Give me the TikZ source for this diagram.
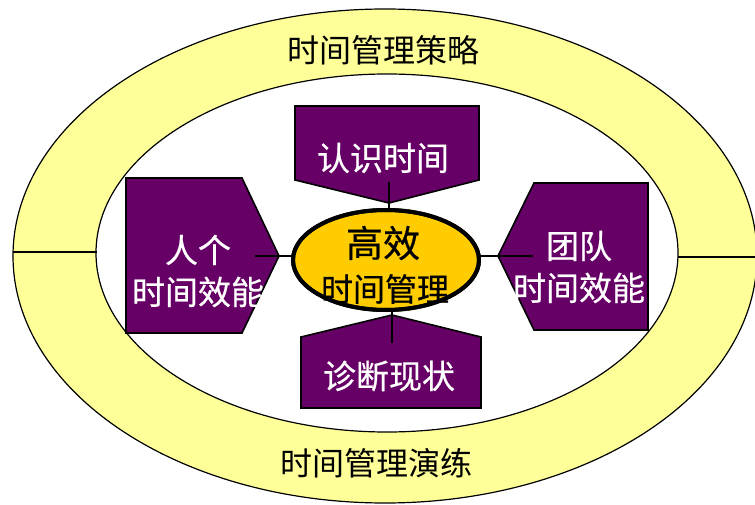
\documentclass[tikz,border=0pt]{standalone}
\usepackage{fontspec}
\newfontfamily\cjk{Noto Sans CJK SC}
\newfontfamily\cjkm[FakeBold=0.6]{Noto Sans CJK SC}
\usetikzlibrary{shapes.geometric}
\definecolor{ring}{HTML}{FFFF99}
\definecolor{plum}{HTML}{660066}
\definecolor{gold}{HTML}{FFCC00}
\tikzset{
  ringtext/.style={font=\cjk\fontsize{32}{36}\selectfont, text=black, inner sep=0},
  boxtext/.style={font=\cjkm\fontsize{33}{42}\selectfont, text=white, inner sep=0, align=center},
  plumbox/.style={fill=plum, draw=black, line width=1.6, line join=miter},
  link/.style={draw=black, line width=2},
  oval/.style={ellipse, draw=black, inner sep=0, outer sep=0}
}
\begin{document}
\begin{tikzpicture}[x=1pt,y=-1pt]
\useasboundingbox (0,0) rectangle (755,505);
\clip (0,0) rectangle (755,505);
% rings
\node[oval, fill=ring, line width=1.2, minimum width=744, minimum height=494] (outer) at (385,256) {};
\node[oval, fill=white, line width=1.2, minimum width=582, minimum height=358] (inner) at (387,253) {};
\coordinate (lo) at (13,252);
\coordinate (li) at (97,252);
\coordinate (ri) at (678,257);
\coordinate (ro) at (760,257);
\draw[line width=1.2] (lo) -- (li);
\draw[line width=1.2] (ri) -- (ro);
\node[ringtext] (strat) at (383,50) {时间管理策略};
\node[ringtext] (drill) at (376,463) {时间管理演练};
% purple shapes
\draw[plumbox] (295,106) -- (479,106) -- (479,180) -- (389,203) -- (295,180) -- cycle;
\draw[plumbox] (126,178) -- (242,178) -- (279,256) -- (242,333) -- (126,333) -- cycle;
\draw[plumbox] (648,183) -- (534,183) -- (498,256) -- (534,330) -- (648,330) -- cycle;
\draw[plumbox] (301,408) -- (481,408) -- (481,337) -- (392,315) -- (301,337) -- cycle;
% centre
\node[oval, fill=gold, line width=4, minimum width=186, minimum height=100] (c) at (386,260) {};
\coordinate (topin) at (389,182);
\coordinate (botin) at (392,343);
\coordinate (lin) at (255,256);
\coordinate (rin) at (533,256);
\draw[link] (topin) -- (topin |- c.north);
\draw[link] (botin) -- (botin |- c.south);
\draw[link] (lin) -- ([xshift=2pt]lin -| c.west);
\draw[link] (rin) -- ([xshift=-2pt]rin -| c.east);
\node[oval, draw=black, line width=4, minimum width=186, minimum height=100] at (c) {};
% texts
\node[boxtext] (t1) at (383,158) {认识时间};
\node[boxtext] (t2) at (198,271) {人个\\时间效能};
\node[boxtext] (t3) at (579,267) {团队\\时间效能};
\node[boxtext] (t4) at (389,376) {诊断现状};
\node[font=\cjkm\fontsize{37}{40}\selectfont, inner sep=0] (h1) at (383,243) {高效};
\node[font=\cjkm\fontsize{32}{36}\selectfont, inner sep=0] (h2) at (385,289) {时间管理};
\end{tikzpicture}
\end{document}
